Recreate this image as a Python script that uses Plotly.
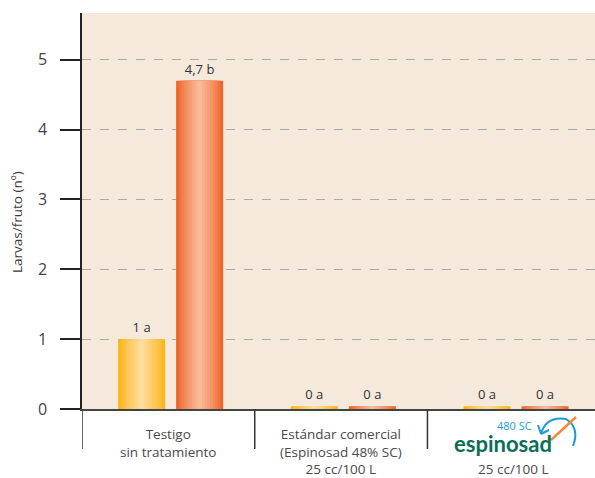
import plotly.graph_objects as go

categories = ["Testigo<br>sin tratamiento", "Estándar comercial<br>(Espinosad 48% SC)<br>25 cc/100 L", "25 cc/100 L"]
series_a = [1, 0, 0]        # yellow bars
series_b = [4.7, 0, 0]      # orange bars
labels_a = ["1 a", "0 a", "0 a"]
labels_b = ["4,7 b", "0 a", "0 a"]
yticks = [0, 1, 2, 3, 4, 5]

FONT = "Open Sans"
xs = [0, 1, 2]
MIN_H = 0.04  # visual minimum height so zero bars show as thin strips

def shade(c1, c2, t):
    a = [int(c1[i:i+2], 16) for i in (1, 3, 5)]
    b = [int(c2[i:i+2], 16) for i in (1, 3, 5)]
    return "#%02x%02x%02x" % tuple(round(a[k] + (b[k] - a[k]) * t) for k in range(3))

fig = go.Figure()
W = 0.272
N = 9
def add_series(vals, labels, center_off, edge, mid):
    disp = [max(v, MIN_H) for v in vals]
    for i in range(N):
        t = i / (N - 1)
        w = W * (1 - 0.9 * t)
        fig.add_trace(go.Bar(
            x=xs, y=disp, width=w, offset=center_off - w / 2,
            marker=dict(color=shade(edge, mid, t ** 0.8), line=dict(width=0)),
            text=labels if i == 0 else None,
            textposition="outside", cliponaxis=False,
            textfont=dict(family=FONT, size=13, color="#333333"),
            hoverinfo="skip", showlegend=False,
        ))

add_series(series_a, labels_a, -0.155, "#fdb515", "#fedc9c")
add_series(series_b, labels_b, 0.181, "#ef6429", "#f8bb96")

PL, PB, PW, PH = 82, 409, 513, 396
def px(x): return (x - PL) / PW
def py(y): return (PB - y) / PH

shapes = []
# dividers below the axis
for xv in [-0.5, 0.5, 1.5]:
    shapes.append(dict(type="line", xref="x", yref="paper", x0=xv, x1=xv, y0=0, y1=py(449),
                       line=dict(color="#333333", width=1.5)))
# swoosh of logo
shapes.append(dict(type="path", xref="paper", yref="paper",
                   path=f"M {px(541)},{py(434)} Q {px(546)},{py(416)} {px(566)},{py(419)} Q {px(580)},{py(428)} {px(573)},{py(446)}",
                   line=dict(color="#1f9bd5", width=2)))
shapes.append(dict(type="path", xref="paper", yref="paper",
                   path=f"M {px(541)},{py(434)} L {px(538)},{py(425)} M {px(541)},{py(434)} L {px(549)},{py(430)}",
                   line=dict(color="#1f9bd5", width=2)))
shapes.append(dict(type="line", xref="paper", yref="paper", x0=px(551), y0=py(440), x1=px(576), y1=py(417),
                   line=dict(color="#f08a3c", width=2.5)))

annotations = []
shifts = [-33.5, -42, -60]
for xv, lab, s in zip(xs, categories, shifts):
    annotations.append(dict(x=xv, y=0, xref="x", yref="paper", text=lab, showarrow=False,
                            yanchor="middle", yshift=s, font=dict(family=FONT, size=13.5, color="#4a4a4a")))
annotations.append(dict(x=px(503), y=py(443), xref="paper", yref="paper", text="<b>espinosad</b>",
                        showarrow=False, xanchor="center", yanchor="middle",
                        font=dict(family="Lato", size=22, color="#0c6e58")))
annotations.append(dict(x=px(514), y=py(425), xref="paper", yref="paper", text="480 SC",
                        showarrow=False, xanchor="center", yanchor="middle",
                        font=dict(family=FONT, size=11, color="#1f9bd5")))
annotations.append(dict(x=px(17), y=py(222), xref="paper", yref="paper", text="Larvas/fruto (nº)",
                        showarrow=False, textangle=-90, xanchor="center", yanchor="middle",
                        font=dict(family=FONT, size=13.5, color="#3a3a3a")))

fig.update_layout(
    width=595, height=478,
    margin=dict(l=82, r=0, t=13, b=69),
    paper_bgcolor="white", plot_bgcolor="#f5e9dc",
    barmode="overlay",
    shapes=shapes, annotations=annotations,
    xaxis=dict(range=[-0.5, 2.47], tickvals=xs, showticklabels=False, ticks="",
               showgrid=False, zeroline=False, showline=True, linecolor="#444444", linewidth=1.5),
    yaxis=dict(range=[0, 5.67], tickvals=yticks, ticks="outside", ticklen=20, tickwidth=1.5,
               tickcolor="#222222", ticklabelstandoff=10,
               tickfont=dict(family=FONT, size=16, color="#444444"),
               showgrid=True, gridcolor="#aaaaaa", griddash="dash", gridwidth=1,
               zeroline=False, showline=True, linecolor="#222222", linewidth=1.5),
)

fig.write_html("out.html", config={"displayModeBar": False},
               post_script="document.body.style.margin='0';document.body.style.overflow='hidden';")
